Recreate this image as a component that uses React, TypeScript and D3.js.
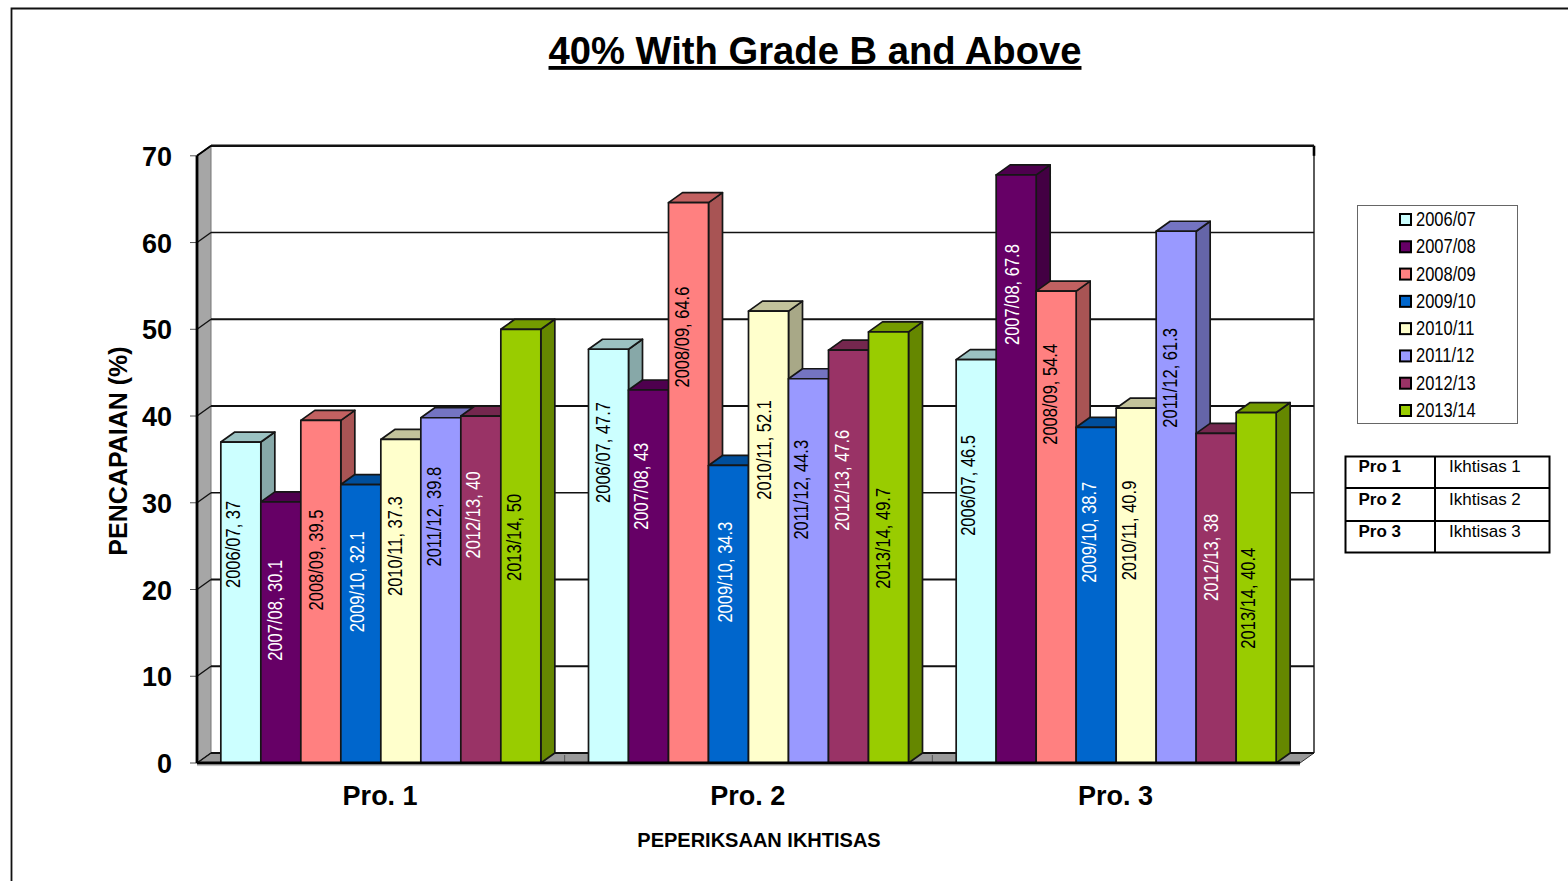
import React from "react";
import * as d3 from "d3";

const programmes = ["Pro. 1", "Pro. 2", "Pro. 3"];
const years = ["2006/07", "2007/08", "2008/09", "2009/10", "2010/11", "2011/12", "2012/13", "2013/14"];
const pro1 = [37, 30.1, 39.5, 32.1, 37.3, 39.8, 40, 50];
const pro2 = [47.7, 43, 64.6, 34.3, 52.1, 44.3, 47.6, 49.7];
const pro3 = [46.5, 67.8, 54.4, 38.7, 40.9, 61.3, 38, 40.4];
const seriesByProgramme = [pro1, pro2, pro3];
const yearColours = ["#CCFFFF", "#660066", "#FF8080", "#0066CC", "#FFFFCC", "#9999FF", "#993366", "#99CC00"];
const labelColours = ["#000", "#fff", "#000", "#fff", "#000", "#000", "#fff", "#000"];
const yTicks = [0, 10, 20, 30, 40, 50, 60, 70];
const keyRows = [["Pro 1", "Ikhtisas 1"], ["Pro 2", "Ikhtisas 2"], ["Pro 3", "Ikhtisas 3"]];

// Hand-placed data labels, as the height on the value axis of each label's middle.
const labelLevels = [
  [25.2, 17.6, 23.4, 20.9, 25, 28.4, 28.6, 26],
  [35.8, 31.9, 49.1, 22, 36.1, 31.5, 32.6, 25.9],
  [32, 54, 42.5, 26.6, 26.8, 44.4, 23.7, 19],
];
// Sideways drift of each label from its bar's centre line.
const labelDrift = [
  [-8, -6, -5, -4, -6, -7, -8, -7],
  [-6, -8, -7, -4, -5, -8, -7, -6],
  [-8, -4, -6, -7, -7, -6, -5, -8],
];

const FRONT_LEFT = 197;
const FRONT_RIGHT = 1300;
const DEPTH_X = 14;
const DEPTH_Y = -10;
const SANS = "'Liberation Sans', Arial, sans-serif";
// Condensed lettering is drawn with the regular face squeezed horizontally.
const CONDENSED = 0.825;

const y = d3.scaleLinear().domain([0, 70]).range([763, 155.8]);
const xGroup = d3.scaleBand<string>().domain(programmes).range([FRONT_LEFT, FRONT_RIGHT]);
const BAR_W = 40;
const xBar = d3.scaleBand<string>().domain(years)
  .range([(xGroup.bandwidth() - BAR_W * 8) / 2, (xGroup.bandwidth() + BAR_W * 8) / 2]);
const legendRow = d3.scalePoint<string>().domain(years).range([219, 410]);

const shade = (c: string, k: number) => {
  const r = d3.rgb(c);
  return d3.rgb(r.r * k, r.g * k, r.b * k).formatHex();
};
const poly = (pts: number[][]) => pts.map((p) => p.join(",")).join(" ");
const gridWeight = (t: number) => (t === 70 ? 2.4 : t === 60 || t === 30 ? 1.4 : 2);

function Bar({ x, value, colour }: { x: number; value: number; colour: string }) {
  const top = y(value);
  const base = y(0);
  return (
    <g stroke="#161616" strokeWidth={1.7} strokeLinejoin="round">
      <polygon
        points={poly([[x + BAR_W, top], [x + BAR_W + DEPTH_X, top + DEPTH_Y], [x + BAR_W + DEPTH_X, base + DEPTH_Y], [x + BAR_W, base]])}
        fill={shade(colour, 0.66)}
      />
      <polygon
        points={poly([[x, top], [x + DEPTH_X, top + DEPTH_Y], [x + BAR_W + DEPTH_X, top + DEPTH_Y], [x + BAR_W, top]])}
        fill={shade(colour, 0.76)}
      />
      <rect x={x} y={top} width={BAR_W} height={base - top} fill={colour} />
    </g>
  );
}

export default function App() {
  const groups = programmes.map((name, gi) => ({
    name,
    left: xGroup(name)!,
    values: seriesByProgramme[gi],
    levels: labelLevels[gi],
    drift: labelDrift[gi],
  }));
  const boundaries = [FRONT_LEFT, ...groups.map((g) => g.left + xGroup.bandwidth())];

  return (
    <svg
      width={1568}
      height={881}
      viewBox="0 0 1568 881"
      style={{ position: "absolute", left: 0, top: 0, background: "#fff" }}
    >
      {/* page frame */}
      <path d="M11.5,881 V8.5 H1568" fill="none" stroke="#111" strokeWidth={1.8} />

      <text x={815} y={64} textAnchor="middle" fontFamily={SANS} fontWeight={700} fontSize={38.2} textDecoration="underline" fill="#000">
        40% With Grade B and Above
      </text>

      {/* walls and floor */}
      <polygon
        points={poly([[FRONT_LEFT, y(0)], [FRONT_LEFT, y(70)], [FRONT_LEFT + DEPTH_X, y(70) + DEPTH_Y], [FRONT_LEFT + DEPTH_X, y(0) + DEPTH_Y]])}
        fill="#A6A6A6"
        stroke="#777"
        strokeWidth={1}
      />
      <polygon
        points={poly([[FRONT_LEFT, y(0)], [FRONT_RIGHT, y(0)], [FRONT_RIGHT + DEPTH_X, y(0) + DEPTH_Y], [FRONT_LEFT + DEPTH_X, y(0) + DEPTH_Y]])}
        fill="#999"
        stroke="#333"
        strokeWidth={1}
      />
      <line x1={FRONT_RIGHT + DEPTH_X} x2={FRONT_RIGHT + DEPTH_X} y1={y(70) + DEPTH_Y} y2={y(0) + DEPTH_Y} stroke="#333" strokeWidth={1.6} />
      <line x1={FRONT_RIGHT + DEPTH_X} x2={FRONT_RIGHT + DEPTH_X} y1={y(70) + DEPTH_Y} y2={y(70)} stroke="#000" strokeWidth={2.6} />

      {/* gridlines run along the back wall and fold down the side wall */}
      {yTicks.map((t) => (
        <g key={t} fill="none">
          <line x1={FRONT_LEFT + DEPTH_X} x2={FRONT_RIGHT + DEPTH_X} y1={y(t) + DEPTH_Y} y2={y(t) + DEPTH_Y} stroke="#111" strokeWidth={gridWeight(t)} />
          <line x1={FRONT_LEFT} x2={FRONT_LEFT + DEPTH_X} y1={y(t)} y2={y(t) + DEPTH_Y} stroke="#111" strokeWidth={1.4} />
          <line x1={FRONT_LEFT - 7} x2={FRONT_LEFT} y1={y(t)} y2={y(t)} stroke="#555" strokeWidth={1} />
          <text x={172} y={y(t) + 10} textAnchor="end" fontFamily={SANS} fontWeight={700} fontSize={27} fill="#000">
            {t}
          </text>
        </g>
      ))}
      {boundaries.slice(1, -1).map((b) => (
        <line key={b} x1={b} x2={b} y1={y(0) - 8} y2={y(0)} stroke="#555" strokeWidth={1} />
      ))}

      {/* bars, left to right so each one hides its neighbour's side face */}
      {groups.map((g) => (
        <g key={g.name}>
          {years.map((yr, i) => (
            <Bar key={yr} x={g.left + xBar(yr)!} value={g.values[i]} colour={yearColours[i]} />
          ))}
        </g>
      ))}

      {/* front axis lines */}
      <line x1={FRONT_LEFT} x2={FRONT_RIGHT} y1={y(0) + 2.6} y2={y(0) + 2.6} stroke="#bbb" strokeWidth={1} />
      <line x1={FRONT_LEFT} x2={FRONT_RIGHT} y1={y(0)} y2={y(0)} stroke="#000" strokeWidth={2.8} />
      <line x1={FRONT_LEFT} x2={FRONT_LEFT} y1={y(70)} y2={y(0)} stroke="#000" strokeWidth={2.8} />
      <line x1={FRONT_LEFT} x2={FRONT_LEFT + DEPTH_X} y1={y(70)} y2={y(70) + DEPTH_Y} stroke="#000" strokeWidth={1.8} />

      {/* data labels */}
      {groups.map((g) =>
        years.map((yr, i) => {
          const cx = g.left + xBar(yr)! + BAR_W / 2 + g.drift[i];
          const cy = y(g.levels[i]);
          return (
            <text
              key={g.name + yr}
              transform={`translate(${cx},${cy}) rotate(-90) scale(${CONDENSED},1)`}
              textAnchor="middle"
              dominantBaseline="central"
              fontFamily={SANS}
              fontSize={20}
              fill={labelColours[i]}
            >
              {`${yr}, ${g.values[i]}`}
            </text>
          );
        })
      )}

      {groups.map((g) => (
        <text key={g.name} x={g.left + xGroup.bandwidth() / 2 - 0.7} y={805} textAnchor="middle" fontFamily={SANS} fontWeight={700} fontSize={27} fill="#000">
          {g.name}
        </text>
      ))}
      <text x={759} y={847} textAnchor="middle" fontFamily={SANS} fontWeight={700} fontSize={20} fill="#000">
        PEPERIKSAAN IKHTISAS
      </text>
      <text transform="translate(127,451) rotate(-90)" textAnchor="middle" fontFamily={SANS} fontWeight={700} fontSize={25} fill="#000">
        PENCAPAIAN (%)
      </text>

      {/* legend */}
      <rect x={1357.5} y={205.5} width={160} height={218} fill="#fff" stroke="#666" strokeWidth={1} />
      {years.map((yr, i) => {
        const rowY = legendRow(yr)!;
        return (
          <g key={yr}>
            <rect x={1400} y={rowY - 5} width={11} height={11} fill={yearColours[i]} stroke="#000" strokeWidth={2} />
            <text transform={`translate(1416,${rowY + 7}) scale(${CONDENSED},1)`} fontFamily={SANS} fontSize={20} fill="#000">
              {yr}
            </text>
          </g>
        );
      })}

      {/* programme key table */}
      <g fill="none" stroke="#000" strokeWidth={2}>
        <rect x={1345.5} y={456.5} width={204} height={96} />
        <line x1={1345} x2={1550} y1={488} y2={488} />
        <line x1={1345} x2={1550} y1={521} y2={521} />
        <line x1={1435} x2={1435} y1={456} y2={553} />
      </g>
      {keyRows.map((row, i) => {
        const base = [472, 505, 537][i];
        return (
          <g key={row[0]} fontFamily={SANS} fontSize={17} fill="#000">
            <text x={1358.5} y={base} fontWeight={700}>{row[0]}</text>
            <text x={1449} y={base}>{row[1]}</text>
          </g>
        );
      })}
    </svg>
  );
}
